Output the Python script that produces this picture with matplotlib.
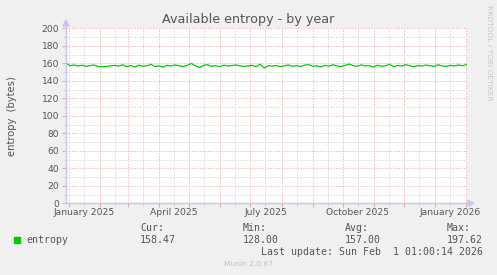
import matplotlib
matplotlib.use("Agg")
import matplotlib.pyplot as plt
import matplotlib.dates as mdates
from matplotlib.ticker import MultipleLocator
import pandas as pd
import numpy as np

# entropy readings across the year window (bytes)
entropy = [
    160.5, 157.2, 158.1, 156.9, 157.8, 156.5, 157.4, 158.0, 156.2, 156.0,
    156.4, 157.1, 157.6, 156.8, 158.3, 156.1, 157.5, 155.8, 157.9, 156.7,
    157.3, 158.6, 156.4, 157.0, 155.6, 157.8, 156.9, 158.2, 157.1, 156.3,
    157.7, 159.8, 157.0, 155.2, 157.6, 158.4, 156.6, 157.3, 156.1, 157.9,
    156.8, 157.4, 158.1, 157.2, 156.5, 157.0, 157.8, 156.2, 158.9, 154.6,
    157.2, 156.8, 157.5, 156.1, 157.3, 158.0, 156.7, 157.4, 156.3, 157.9,
    158.5, 156.6, 157.2, 155.9, 157.6, 156.8, 158.3, 157.0, 156.4, 157.7,
    159.1, 157.3, 156.5, 158.2, 156.9, 157.4, 155.7, 157.8, 156.6, 157.3,
    158.7, 156.2, 157.5, 156.9, 158.4, 157.1, 155.9, 157.6, 156.8, 158.0,
    157.2, 156.5, 158.3, 157.0, 156.4, 157.7, 156.9, 158.1, 157.3, 158.47,
]
start_time = "2024-12-29 12:00"
end_time = "2026-02-01 01:00"
quarter_labels = ["January 2025", "April 2025", "July 2025", "October 2025", "January 2026"]
quarter_starts = ["2025-01-01", "2025-04-01", "2025-07-01", "2025-10-01", "2026-01-01"]

legend_heads = ["Cur:", "Min:", "Avg:", "Max:"]
legend_vals = ["158.47", "128.00", "157.00", "197.62"]

W, H = 497, 275
fig = plt.figure(figsize=(W / 100, H / 100), dpi=100, facecolor="#f0f0f0")

def fx(px):
    return px / W

def fy(py):
    return 1 - py / H

left, right, top, bottom = 66, 466.5, 28.3, 203.3
ax = fig.add_axes([fx(left), fy(bottom), fx(right - left), (bottom - top) / H])
ax.set_facecolor("white")

times = pd.date_range(start_time, end_time, periods=len(entropy))
ax.plot(times, entropy, color="#00cc00", lw=0.9, zorder=3)

ax.set_xlim(pd.Timestamp(start_time), pd.Timestamp(end_time))
ax.set_ylim(0, 200)

red = "#eebcbc"
grey = "#d8d8d8"
ax.xaxis.set_major_locator(mdates.MonthLocator(bymonthday=1))
ax.xaxis.set_minor_locator(mdates.MonthLocator(bymonthday=16))
ax.xaxis.set_major_formatter(plt.NullFormatter())
ax.yaxis.set_major_locator(MultipleLocator(20))
ax.yaxis.set_minor_locator(MultipleLocator(10))

ax.grid(which="minor", color=grey, lw=0.7, ls=(0, (1.4, 1.4)), zorder=1)
ax.grid(which="major", color=red, lw=0.7, ls=(0, (1.4, 1.4)), zorder=2)
ax.tick_params(which="major", length=3, width=0.8, color="#e8a8a8", direction="out",
               labelsize=6.6, labelcolor="#555555", pad=2)
ax.tick_params(which="minor", length=2, width=0.8, color=grey, direction="out")
ax.tick_params(axis="x", which="both", labelbottom=False)

for s in ["top", "right"]:
    ax.spines[s].set_visible(False)
for s in ["left", "bottom"]:
    ax.spines[s].set_color("#c8c8ee")
    ax.spines[s].set_linewidth(0.9)

# quarter labels are centred half a month after the month start
for lab, q in zip(quarter_labels, quarter_starts):
    t = pd.Timestamp(q) + pd.Timedelta(days=15)
    ax.text(mdates.date2num(t), -5.5, lab, ha="center", va="top",
            fontsize=6.6, color="#555555", clip_on=False)

# axis arrows
fig.add_artist(plt.Line2D([fx(left), fx(left)], [fy(bottom), fy(24)], color="#c8c8ee", lw=0.9))
fig.add_artist(plt.Line2D([fx(left), fx(470)], [fy(bottom), fy(bottom)], color="#c8c8ee", lw=0.9))
fig.add_artist(plt.Polygon([[fx(left - 3), fy(26)], [fx(left + 3), fy(26)], [fx(left), fy(20)]],
                           closed=True, color="#c8c8ee", transform=fig.transFigure))
fig.add_artist(plt.Polygon([[fx(468), fy(bottom - 3)], [fx(468), fy(bottom + 3)], [fx(474), fy(bottom)]],
                           closed=True, color="#c8c8ee", transform=fig.transFigure))

fig.text(fx(248), fy(19), "Available entropy - by year", ha="center", va="center",
         fontsize=9.2, color="#555555")
fig.text(fx(12), fy(116), "entropy  (bytes)", ha="center", va="center", rotation=90,
         fontsize=7.2, color="#555555")
fig.text(fx(489), fy(5), "RRDTOOL / TOBI OETIKER", ha="center", va="top", rotation=270,
         fontsize=5.4, color="#c8c8c8")

mono = dict(family="DejaVu Sans Mono", fontsize=7.1, color="#555555", va="center")
head_x = [140, 243, 345, 447]
for hx, h in zip(head_x, legend_heads):
    fig.text(fx(hx), fy(228), h, ha="left", **mono)
for hx, v in zip(head_x, legend_vals):
    fig.text(fx(hx), fy(240), v, ha="left", **mono)
fig.add_artist(plt.Rectangle((fx(14), fy(243)), fx(6), 6 / H, color="#00cc00",
                             transform=fig.transFigure))
fig.text(fx(26), fy(240), "entropy", ha="left", **mono)
fig.text(fx(483), fy(252), "Last update: Sun Feb  1 01:00:14 2026", ha="right", **mono)
fig.text(fx(248), fy(264), "Munin 2.0.67", ha="center", va="center", fontsize=5.4, color="#c0c0c0")

fig.savefig("out.png", dpi=100, facecolor=fig.get_facecolor())
